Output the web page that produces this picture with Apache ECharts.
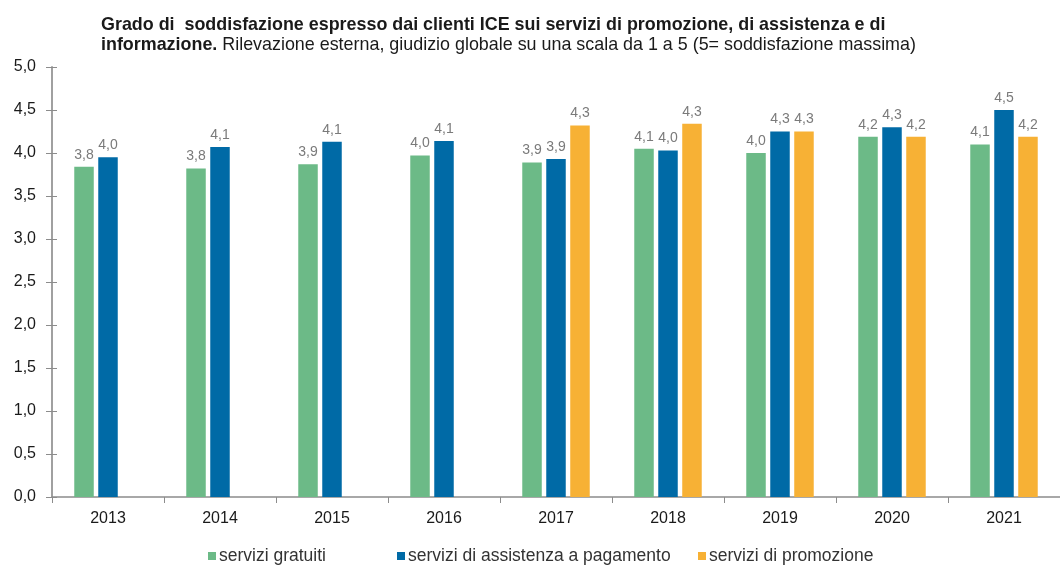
<!DOCTYPE html>
<html>
<head>
<meta charset="utf-8">
<script src="https://cdn.jsdelivr.net/npm/echarts@6/dist/echarts.min.js"></script>
<style>
  html, body { margin: 0; padding: 0; background: #fff; }
  #chart { width: 1060px; height: 567px; }
</style>
</head>
<body>
<div id="chart"></div>
<script>
// anni
var anni = ['2013', '2014', '2015', '2016', '2017', '2018', '2019', '2020', '2021'];
// valori
var gratuiti = [3.84, 3.82, 3.87, 3.97, 3.89, 4.05, 4.00, 4.19, 4.10];
var assistenza = [3.95, 4.07, 4.13, 4.14, 3.93, 4.03, 4.25, 4.30, 4.50];
var promozione = [null, null, null, null, 4.32, 4.34, 4.25, 4.19, 4.19];
// etichette mostrate sopra le barre
var lblGratuiti = ['3,8', '3,8', '3,9', '4,0', '3,9', '4,1', '4,0', '4,2', '4,1'];
var lblAssistenza = ['4,0', '4,1', '4,1', '4,1', '3,9', '4,0', '4,3', '4,3', '4,5'];
var lblPromozione = ['', '', '', '', '4,3', '4,3', '4,3', '4,2', '4,2'];
var nomi = ['servizi gratuiti', 'servizi di assistenza a pagamento', 'servizi di promozione'];

var FONT = 'Liberation Sans, Arial, sans-serif';
var myChart = echarts.init(document.getElementById('chart'));

function serie(nome, dati, etichette, colore) {
    return {
        name: nome,
        type: 'bar',
        data: dati,
        barWidth: 19.5,
        barGap: '23%',
        itemStyle: { color: colore },
        label: {
            show: true,
            position: 'top',
            distance: 5,
            color: '#7a7a7a',
            fontSize: 14,
            fontFamily: FONT,
            formatter: function (p) { return etichette[p.dataIndex]; }
        }
    };
}

// una legenda per voce, come nell'originale (slot a larghezza fissa)
function legenda(nome, x) {
    return {
        left: x,
        top: 542,
        itemWidth: 8,
        itemHeight: 8,
        icon: 'rect',
        textStyle: { fontSize: 17.5, color: '#333', fontFamily: FONT, padding: [0, 0, 0, -2] },
        data: [nome]
    };
}

var option = {
    animation: false,
    textStyle: { fontFamily: FONT },
    title: {
        left: 96,
        top: 10,
        text: '{b|Grado di  soddisfazione espresso dai clienti ICE sui servizi di promozione, di assistenza e di}\n{b|informazione.}{n| Rilevazione esterna, giudizio globale su una scala da 1 a 5 (5= soddisfazione massima)}',
        textStyle: {
            rich: {
                b: { fontSize: 17.9, fontWeight: 'bold', color: '#1a1a1a', lineHeight: 20, fontFamily: FONT },
                n: { fontSize: 17.9, fontWeight: 'normal', color: '#1a1a1a', lineHeight: 20, fontFamily: FONT }
            }
        }
    },
    legend: [
        legenda(nomi[0], 203),
        legenda(nomi[1], 392),
        legenda(nomi[2], 693)
    ],
    grid: {
        left: 52,
        top: 67,
        width: 1018,
        height: 430
    },
    xAxis: {
        type: 'category',
        data: anni,
        axisLine: { lineStyle: { color: '#8c8c8c', width: 1.5 } },
        axisTick: { show: true, length: 6, lineStyle: { color: '#8c8c8c' } },
        axisLabel: { fontSize: 16, color: '#1a1a1a', margin: 14 }
    },
    yAxis: [{
        type: 'value',
        min: 0,
        max: 5,
        interval: 0.5,
        axisLine: { show: true, lineStyle: { color: '#a0a0a0', width: 2 } },
        axisTick: { show: true, length: 6, lineStyle: { color: '#8c8c8c' } },
        splitLine: { show: false },
        axisLabel: {
            fontSize: 16,
            color: '#1a1a1a',
            margin: 16,
            formatter: function (v) { return v.toFixed(1).replace('.', ','); }
        }
    }, {
        // tacche interne (nell'originale attraversano l'asse)
        type: 'value',
        position: 'left',
        min: 0,
        max: 5,
        interval: 0.5,
        axisLine: { show: false },
        axisTick: { show: true, inside: true, length: 5, lineStyle: { color: '#8c8c8c' } },
        axisLabel: { show: false },
        splitLine: { show: false }
    }],
    series: [
        serie(nomi[0], gratuiti, lblGratuiti, '#6cba87'),
        serie(nomi[1], assistenza, lblAssistenza, '#006aa6'),
        serie(nomi[2], promozione, lblPromozione, '#f7b135')
    ]
};
myChart.setOption(option);
</script>
</body>
</html>
